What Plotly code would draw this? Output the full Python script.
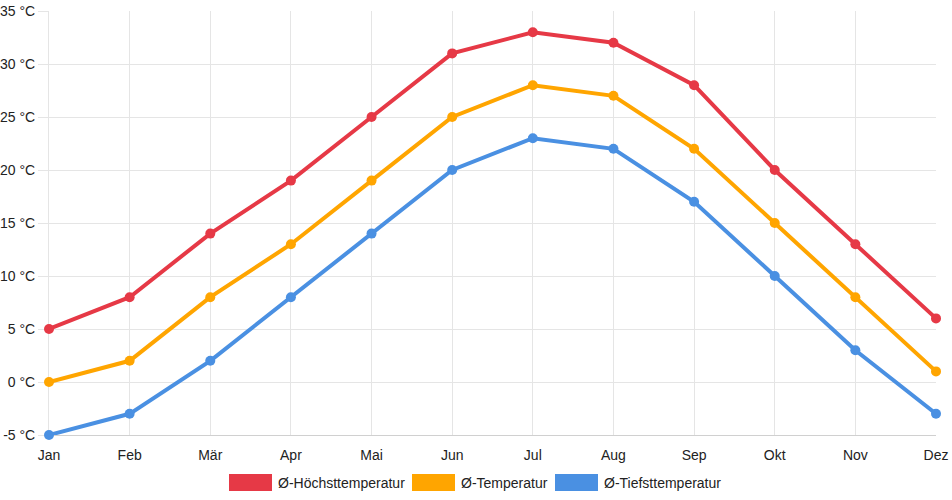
import plotly.graph_objs as go

months = ["Jan", "Feb", "Mär", "Apr", "Mai", "Jun", "Jul", "Aug", "Sep", "Okt", "Nov", "Dez"]
t_max = [5, 8, 14, 19, 25, 31, 33, 32, 28, 20, 13, 6]
t_mean = [0, 2, 8, 13, 19, 25, 28, 27, 22, 15, 8, 1]
t_min = [-5, -3, 2, 8, 14, 20, 23, 22, 17, 10, 3, -3]
y_ticks = list(range(-5, 40, 5))
y_labels = ["{} °C".format(v) for v in y_ticks]

series = [
    ("Ø-Höchsttemperatur", t_max, "#e63946"),
    ("Ø-Temperatur", t_mean, "#ffa500"),
    ("Ø-Tiefsttemperatur", t_min, "#4a90e2"),
]

data = []
for name, vals, col in series:
    data.append(go.Scatter(
        x=months, y=vals, name=name, mode="lines+markers",
        line=dict(color=col, width=4),
        marker=dict(color=col, size=10),
        cliponaxis=False, showlegend=False,
    ))

# plot area in pixels: x 49..936, y 11..435
def px_x(p):
    return (p - 49) / 887.0

def px_y(p):
    return (435 - p) / 424.0

# legend drawn by hand with coloured boxes
shapes = []
annotations = []
box_x = [229, 412, 555]
for (name, vals, col), bx in zip(series, box_x):
    shapes.append(dict(type="rect", xref="paper", yref="paper",
                       x0=px_x(bx), x1=px_x(bx + 43),
                       y0=px_y(491), y1=px_y(474),
                       fillcolor=col, line=dict(width=0)))
    annotations.append(dict(text=name, xref="paper", yref="paper",
                            x=px_x(bx + 47), y=px_y(483),
                            xanchor="left", yanchor="middle", showarrow=False,
                            font=dict(size=14, color="#222")))

layout = go.Layout(
    width=952, height=500,
    margin=dict(l=49, r=16, t=11, b=65, autoexpand=False),
    paper_bgcolor="white", plot_bgcolor="white",
    font=dict(family="Liberation Sans, Arial, sans-serif", size=14, color="#222"),
    xaxis=dict(
        type="category", range=[0, 11], automargin=False, layer="below traces",
        showgrid=True, gridcolor="#e5e5e5",
        showline=True, linecolor="#d0d0d0",
        ticks="outside", ticklen=7, tickcolor="white",
        tickfont=dict(size=14, color="#222"),
    ),
    yaxis=dict(
        range=[-5, 35], tickvals=y_ticks, ticktext=y_labels, automargin=False,
        layer="below traces",
        showgrid=True, gridcolor="#e5e5e5", zeroline=False,
        showline=True, linecolor="#e5e5e5",
        ticks="outside", ticklen=10, tickcolor="#e5e5e5",
        tickfont=dict(size=14, color="#222"),
    ),
    shapes=shapes, annotations=annotations,
)

fig = go.Figure(data=data, layout=layout)
fig.write_html("out.html", config={"displayModeBar": False},
               post_script="document.body.style.margin='0';document.body.style.overflow='hidden';")
